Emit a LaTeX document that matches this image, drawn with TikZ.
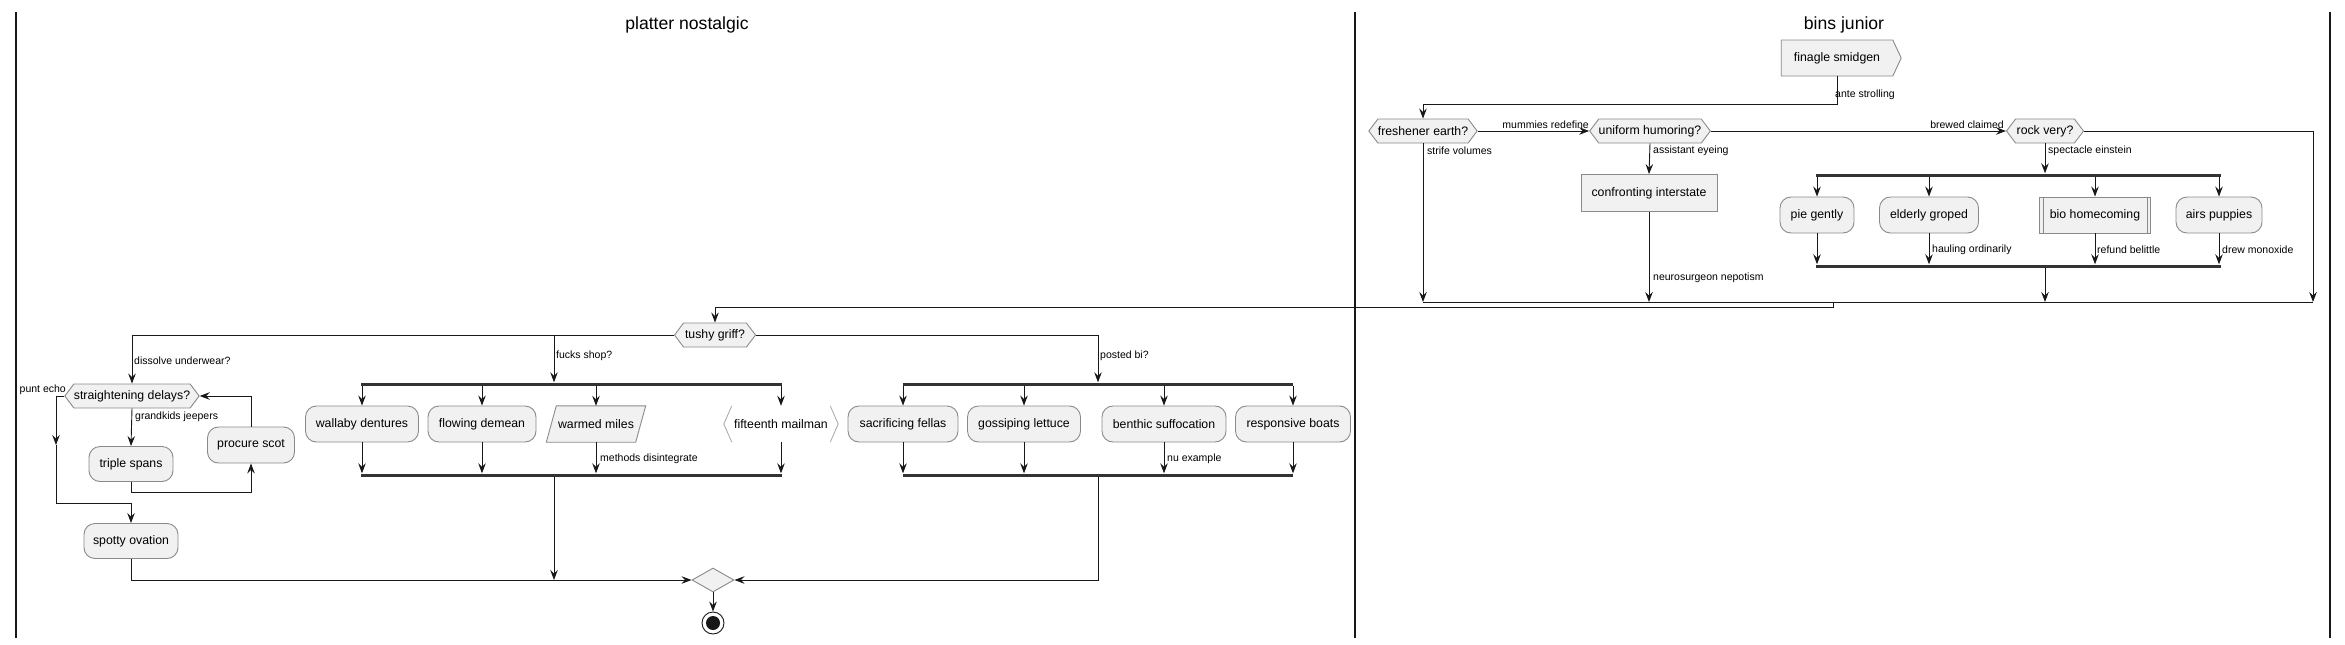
\documentclass[tikz,border=0pt]{standalone}
\usepackage{fontspec}
\setmainfont{Liberation Sans}
\usetikzlibrary{arrows.meta,shapes.symbols,shapes.geometric}
\definecolor{afill}{HTML}{F1F1F1}
\definecolor{aline}{HTML}{181818}
\definecolor{bline}{HTML}{8A8A8A}
\definecolor{barc}{HTML}{333333}
\begin{document}
\begin{tikzpicture}[x=1pt,y=-1pt,
 boxtxt/.style={font=\fontsize{12.3}{14}\selectfont},
 act/.style={draw=bline, line width=0.9pt, fill=afill, rounded corners=11pt, minimum height=36pt, inner sep=0pt, boxtxt},
 plainbox/.style={draw=bline, line width=0.9pt, fill=afill, minimum height=37pt, inner sep=0pt, boxtxt},
 ghost/.style={draw=none, minimum height=36pt, inner sep=0pt, boxtxt},
 dec/.style={shape=signal, signal to=west and east, signal pointer angle=106, draw=bline, line width=0.9pt, fill=afill, minimum height=24pt, inner sep=0pt, boxtxt},
 sendsig/.style={shape=signal, signal to=east, signal pointer angle=130, draw=bline, line width=0.9pt, fill=afill, minimum height=36pt, inner sep=0pt, boxtxt},
 forkbar/.style={fill=barc, draw=none, minimum height=3pt, inner sep=0pt},
 lbl/.style={font=\fontsize{10.5}{12}\selectfont, inner sep=0pt, anchor=west},
 ttl/.style={font=\fontsize{17.6}{20}\selectfont},
 flowline/.style={draw=aline, line width=0.9pt},
 arr/.style={flowline, -{Stealth[length=10pt,width=7.5pt,inset=3.5pt]}},
 lane/.style={draw=aline, line width=1.6pt},
]
\path[use as bounding box] (0,0) rectangle (2345,645);

% lanes
\coordinate (l1t) at (16,12);   \coordinate (l1b) at (16,638);
\coordinate (l2t) at (1355,12); \coordinate (l2b) at (1355,638);
\coordinate (l3t) at (2330,12); \coordinate (l3b) at (2330,638);
\draw[lane] (l1t) -- (l1b);
\draw[lane] (l2t) -- (l2b);
\draw[lane] (l3t) -- (l3b);
\node[ttl] (t1) at (687,25) {platter nostalgic};
\node[ttl] (t2) at (1844,25) {bins junior};

% ---------- right lane ----------
\node[sendsig, minimum width=120pt] (fin) at (1837,58) {finagle smidgen};
\node[dec, minimum width=105pt] (fresh) at (1423,131) {freshener earth?};
\node[dec, minimum width=115pt] (unif) at (1650,131) {uniform humoring?};
\node[dec, minimum width=77pt] (rock) at (2045,131) {rock very?};
\node[plainbox, minimum width=136pt] (conf) at (1649,193) {confronting interstate};
\node[forkbar, minimum width=405pt] (forkR) at (2018.5,175) {};
\node[act, minimum width=74pt] (pie) at (1817,215) {pie gently};
\node[act, minimum width=99pt] (eld) at (1929,215) {elderly groped};
\node[plainbox, minimum width=111pt, minimum height=36pt] (bio) at (2095,215) {bio homecoming};
\draw[bline, line width=0.9pt] ([xshift=4pt]bio.north west) -- ([xshift=4pt]bio.south west);
\draw[bline, line width=0.9pt] ([xshift=-4pt]bio.north east) -- ([xshift=-4pt]bio.south east);
\node[act, minimum width=86pt] (airs) at (2219,215) {airs puppies};
\node[forkbar, minimum width=405pt] (joinR) at (2018.5,266) {};

\coordinate (mergeR) at (1833,302);
\coordinate (rockout) at (2313,302);

\draw[arr] (fin.south) -- ++(0,28) -| (fresh.north);
\node[lbl] (lAnte) at (1835,95) {ante strolling};
\draw[arr] (fresh.east) -- (unif.west);
\node[lbl, anchor=east] (lMum) at (1589,125) {mummies redefine};
\draw[arr] (unif.east) -- (rock.west);
\node[lbl, anchor=east] (lBrew) at (2004,125) {brewed claimed};
\draw[arr] (rock.east) -| (rockout);
\draw[arr] (fresh.south) -- (fresh.south |- mergeR);
\node[lbl] (lStrife) at (1427,151) {strife volumes};
\draw[arr] (unif.south) -- (conf.north);
\node[lbl] (lAss) at (1653,151) {assistant eyeing};
\draw[arr] (conf.south) -- (conf.south |- mergeR);
\node[lbl] (lNeuro) at (1653,278) {neurosurgeon nepotism};
\draw[arr] (rock.south) -- (rock.south |- forkR.north);
\node[lbl] (lSpec) at (2048,151) {spectacle einstein};
\foreach \n in {pie,eld,bio,airs}{
  \draw[arr] (forkR.south -| \n.north) -- (\n.north);
  \draw[arr] (\n.south) -- (\n.south |- joinR.north);
}
\node[lbl] (lHaul) at (1932,250) {hauling ordinarily};
\node[lbl] (lRef) at (2097,250) {refund belittle};
\node[lbl] (lDrew) at (2222,250) {drew monoxide};
\draw[arr] (joinR.south -| rock.south) -- (rock.south |- mergeR);
\draw[flowline] (fresh.south |- mergeR) -- (rockout);

% ---------- left lane ----------
\node[dec, minimum width=81pt] (tushy) at (715,335) {tushy griff?};
\draw[arr] (mergeR) -- ++(0,5) -| (tushy.north);

\node[dec, minimum width=127pt] (strat) at (132,396) {straightening delays?};
\node[act, minimum width=84pt, minimum height=35pt] (triple) at (131,464) {triple spans};
\node[act, minimum width=87pt] (procure) at (251,445) {procure scot};
\node[act, minimum width=94pt, minimum height=35pt] (spotty) at (131,541) {spotty ovation};

\coordinate (fsplit) at (554,335);
\node[forkbar, minimum width=421pt] (forkM) at (571.5,384) {};
\node[act, minimum width=113pt] (wall) at (362,424) {wallaby dentures};
\node[act, minimum width=108pt] (flowd) at (482,424) {flowing demean};
\node[ghost, minimum width=99pt] (warm) at (596,424) {};
\draw[bline, line width=0.9pt, fill=afill] (warm.south west) -- ([xshift=10pt]warm.north west) -- (warm.north east) -- ([xshift=-10pt]warm.south east) -- cycle;
\node[ghost, minimum width=99pt] (warmtxt) at (warm.center) {warmed miles};
\node[ghost, minimum width=114pt] (fif) at (781,424) {fifteenth mailman};
\draw[black!35, line width=0.8pt] ([xshift=8pt]fif.north west) -- (fif.west) -- ([xshift=8pt]fif.south west);
\draw[black!35, line width=0.8pt] ([xshift=-8pt]fif.north east) -- (fif.east) -- ([xshift=-8pt]fif.south east);
\node[forkbar, minimum width=421pt] (joinM) at (571.5,475) {};

\node[forkbar, minimum width=390pt] (forkP) at (1098,384) {};
\node[act, minimum width=110pt] (sac) at (903,424) {sacrificing fellas};
\node[act, minimum width=113pt] (goss) at (1024,424) {gossiping lettuce};
\node[act, minimum width=124pt] (ben) at (1164,424) {benthic suffocation};
\node[act, minimum width=115pt] (resp) at (1293,424) {responsive boats};
\node[forkbar, minimum width=390pt] (joinP) at (1098,475) {};

\node[diamond, draw=bline, line width=0.9pt, fill=afill, minimum width=42pt, minimum height=24pt, inner sep=0pt] (diam) at (713,580) {};
\node[circle, draw=aline, line width=0.9pt, fill=white, minimum size=22pt, inner sep=0pt] (endn) at (713,623) {};
\fill[aline] (endn.center) circle (7pt);

% tushy branches
\draw[arr] (tushy.west) -| (strat.north);
\node[lbl] (lDis) at (134,361) {dissolve underwear?};
\draw[arr] (fsplit) -- (fsplit |- forkM.north);
\node[lbl] (lFucks) at (556,356) {fucks shop?};
\draw[arr] (tushy.east) -| (forkP.north);
\node[lbl] (lPosted) at (1100,356) {posted bi?};

% loop
\coordinate (pA) at (56,445);
\coordinate (pB) at (56,503);
\draw[arr] (strat.west) -| (pA);
\node[lbl, anchor=east] (lPunt) at (66,390) {punt echo};
\draw[arr] (pA) -- (pB) -| (spotty.north);
\draw[arr] (strat.south) -- (triple.north);
\node[lbl] (lGrand) at (135,417) {grandkids jeepers};
\draw[arr] (triple.south) -- ++(0,10) -| (procure.south);
\draw[arr] (procure.north) |- (strat.east);

% fork branches
\foreach \n in {wall,flowd,warm,fif}{
  \draw[arr] (forkM.south -| \n.north) -- (\n.north);
  \draw[arr] (\n.south) -- (\n.south |- joinM.north);
}
\node[lbl] (lMeth) at (600,459) {methods disintegrate};
\foreach \n in {sac,goss,ben,resp}{
  \draw[arr] (forkP.south -| \n.north) -- (\n.north);
  \draw[arr] (\n.south) -- (\n.south |- joinP.north);
}
\node[lbl] (lNu) at (1167,459) {nu example};

% merge
\draw[arr] (spotty.south) |- (diam.west);
\draw[arr] (joinM.south -| fsplit) -- (fsplit |- diam.west);
\draw[arr] (joinP.south) |- (diam.east);
\draw[arr] (diam.south) -- (endn.north);
\end{tikzpicture}
\end{document}
